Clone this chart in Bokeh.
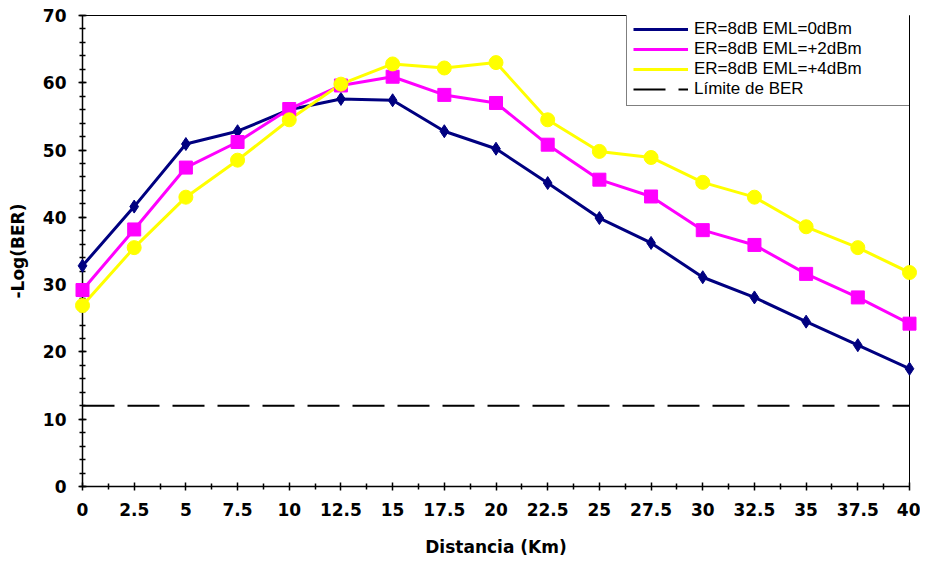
from bokeh.plotting import figure
from bokeh.models import FixedTicker, Range1d, Legend, LegendItem
from bokeh.embed import file_html
from bokeh.resources import INLINE

# ---- data ----
distance = [0, 2.5, 5, 7.5, 10, 12.5, 15, 17.5, 20, 22.5, 25, 27.5, 30, 32.5, 35, 37.5, 40]
eml_0dbm = [32.8, 41.6, 50.9, 52.8, 56.0, 57.6, 57.4, 52.8, 50.2, 45.1, 39.9, 36.2, 31.1, 28.1, 24.5, 21.0, 17.5]
eml_2dbm = [29.2, 38.2, 47.4, 51.2, 56.1, 59.6, 60.9, 58.2, 57.0, 50.8, 45.6, 43.1, 38.1, 35.9, 31.6, 28.1, 24.2]
eml_4dbm = [26.9, 35.5, 43.0, 48.5, 54.5, 59.8, 62.8, 62.2, 63.0, 54.5, 49.8, 48.9, 45.2, 43.0, 38.6, 35.5, 31.8]
ber_limit = 12.0

labels = ["ER=8dB EML=0dBm", "ER=8dB EML=+2dBm", "ER=8dB EML=+4dBm", "Límite de BER"]
x_ticks = [0, 2.5, 5, 7.5, 10, 12.5, 15, 17.5, 20, 22.5, 25, 27.5, 30, 32.5, 35, 37.5, 40]
x_minor = [1.25 + 2.5 * i for i in range(16)]
y_ticks = [0, 10, 20, 30, 40, 50, 60, 70]
y_minor = [v for v in range(0, 71, 2)]

p = figure(width=920, height=559, output_backend="svg", toolbar_location=None,
           x_range=Range1d(0, 40), y_range=Range1d(0, 70),
           min_border_left=82, min_border_right=11, min_border_top=15, min_border_bottom=73)

p.xgrid.visible = False
p.ygrid.visible = False
p.outline_line_color = "black"
p.outline_line_width = 1
p.background_fill_color = "white"
p.border_fill_color = "white"

tick_font = "DejaVu Sans"
for ax in (p.xaxis[0], p.yaxis[0]):
    ax.axis_line_color = "black"
    ax.axis_line_width = 1.5
    ax.major_tick_line_color = "black"
    ax.minor_tick_line_color = "black"
    ax.major_tick_line_width = 1.5
    ax.minor_tick_line_width = 1.5
    ax.major_tick_in = 4
    ax.major_tick_out = 4
    ax.minor_tick_in = 3
    ax.minor_tick_out = 3
    ax.major_label_text_font = tick_font
    ax.major_label_text_font_style = "bold"
    ax.major_label_text_font_size = "17px"
    ax.major_label_text_color = "black"
    ax.axis_label_text_font = tick_font
    ax.axis_label_text_font_style = "bold"
    ax.axis_label_text_font_size = "17px"
    ax.axis_label_text_color = "black"
    ax.major_label_standoff = 12

p.xaxis.ticker = FixedTicker(ticks=x_ticks, minor_ticks=x_minor)
p.yaxis.ticker = FixedTicker(ticks=y_ticks, minor_ticks=y_minor)
p.xaxis.major_label_overrides = {t: (str(t) if t != int(t) else str(int(t))) for t in x_ticks}
p.xaxis.axis_label = "Distancia (Km)"
p.yaxis.axis_label = "-Log(BER)"
p.xaxis.axis_label_standoff = 18
p.yaxis.axis_label_standoff = 12

navy = "#000080"
mag = "#FF00FF"
yel = "#FFFF00"

l1 = p.line(distance, eml_0dbm, line_color=navy, line_width=3)
m1 = p.scatter(distance, eml_0dbm, marker="diamond", size=13, fill_color=navy, line_color=navy)
l2 = p.line(distance, eml_2dbm, line_color=mag, line_width=3)
m2 = p.scatter(distance, eml_2dbm, marker="square", size=13, fill_color=mag, line_color=mag)
l3 = p.line(distance, eml_4dbm, line_color=yel, line_width=3)
m3 = p.scatter(distance, eml_4dbm, marker="circle", size=14, fill_color=yel, line_color=yel)
l4 = p.line([distance[0], distance[-1]], [ber_limit, ber_limit], line_color="black",
            line_width=2, line_dash="32 13")

for r in (m1, m2, m3):
    r.level = "overlay"

# legend glyph renderers (smaller markers in legend)
lg1 = p.scatter([], [], marker="diamond", size=10, fill_color=navy, line_color=navy)
lg2 = p.scatter([], [], marker="square", size=9, fill_color=mag, line_color=mag)
lg3 = p.scatter([], [], marker="circle", size=10, fill_color=yel, line_color=yel)

legend = Legend(items=[
    LegendItem(label=labels[0], renderers=[l1, lg1]),
    LegendItem(label=labels[1], renderers=[l2, lg2]),
    LegendItem(label=labels[2], renderers=[l3, lg3]),
    LegendItem(label=labels[3], renderers=[l4]),
], location=(544, 380))
legend.label_text_font = "Liberation Sans"
legend.label_text_font_size = "17px"
legend.label_text_color = "black"
legend.glyph_width = 55
legend.glyph_height = 20
legend.label_height = 20
legend.label_standoff = 6
legend.label_width = 212
legend.spacing = 0
legend.padding = 6
legend.margin = 0
legend.border_line_color = "black"
legend.border_line_width = 1
legend.background_fill_color = "white"
legend.background_fill_alpha = 1.0
p.add_layout(legend, "center")

open("out.html", "w").write(file_html(p, INLINE))
